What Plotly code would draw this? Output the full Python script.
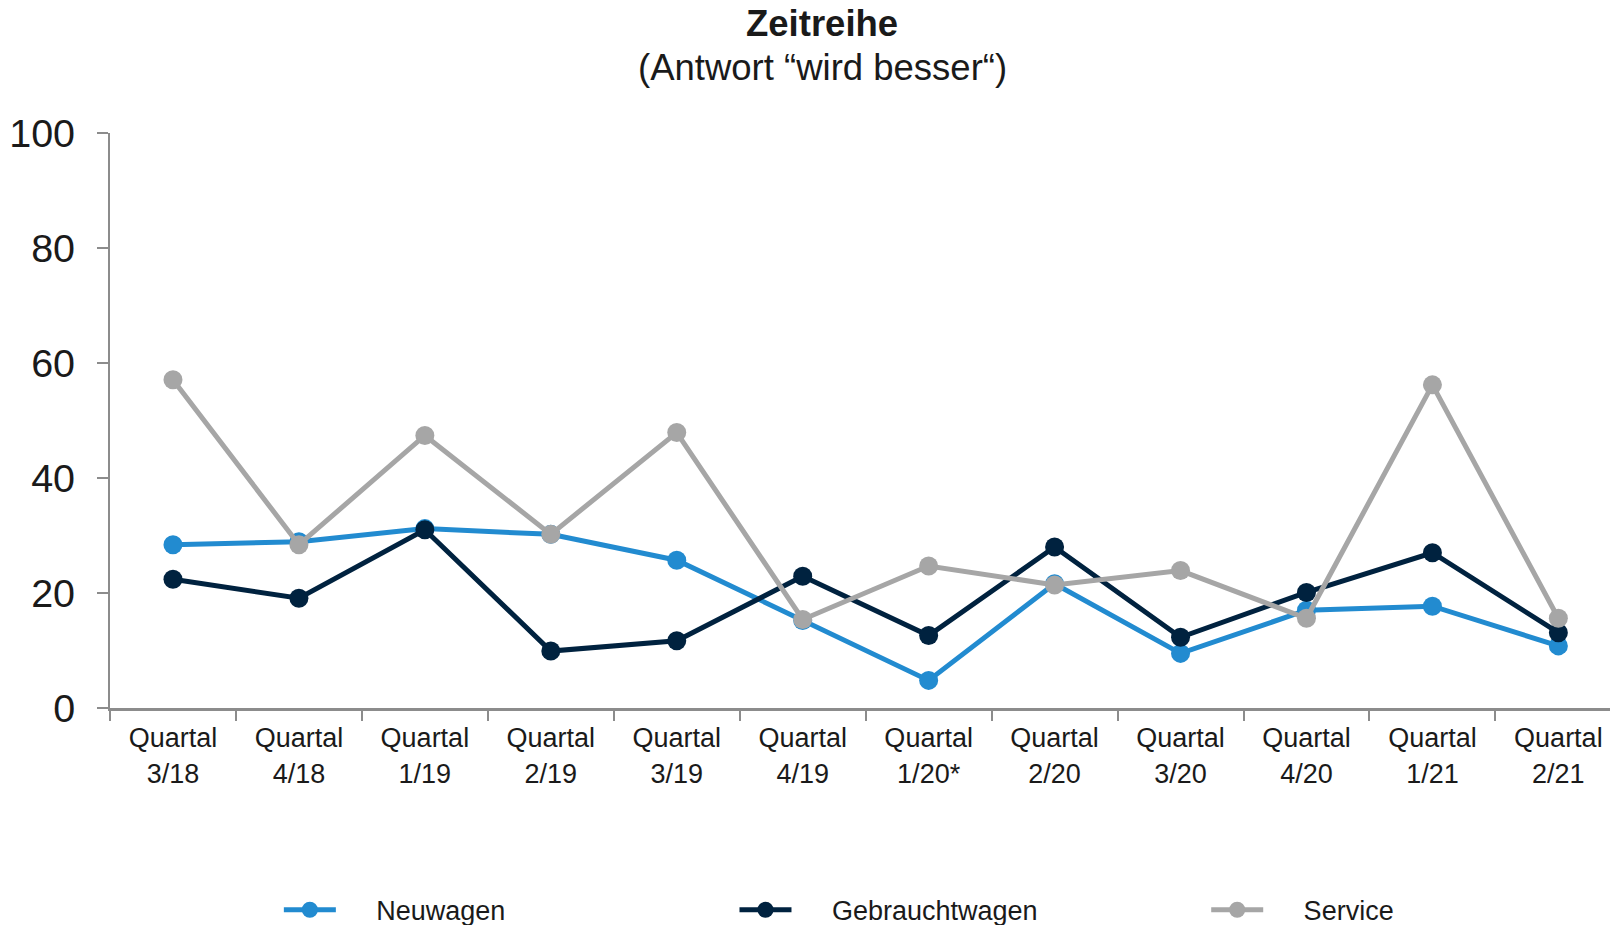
import plotly.graph_objects as go

quarters = ["Quartal<br>3/18", "Quartal<br>4/18", "Quartal<br>1/19", "Quartal<br>2/19",
            "Quartal<br>3/19", "Quartal<br>4/19", "Quartal<br>1/20*", "Quartal<br>2/20",
            "Quartal<br>3/20", "Quartal<br>4/20", "Quartal<br>1/21", "Quartal<br>2/21"]

neuwagen = [28.4, 28.9, 31.2, 30.2, 25.7, 15.2, 4.8, 21.6, 9.5, 17.0, 17.7, 10.8]
gebrauchtwagen = [22.4, 19.1, 31.0, 9.9, 11.7, 22.9, 12.6, 28.0, 12.3, 20.1, 27.0, 13.1]
service = [57.1, 28.4, 47.4, 30.2, 47.9, 15.4, 24.7, 21.4, 23.9, 15.6, 56.2, 15.6]

y_ticks = [0, 20, 40, 60, 80, 100]

FONT = "Arial, Liberation Sans, sans-serif"
TEXT = "#1a1a1a"
AXIS = "#8c8c8c"
PAD = "\u00a0" * 4 + "\u2009"  # gap between legend symbol and label

# name, values, colour, legend id, legend left edge (fraction of the page width)
series = [
    ("Neuwagen", neuwagen, "#228bd0", "legend", 0.1732),
    ("Gebrauchtwagen", gebrauchtwagen, "#00223f", "legend2", 0.4562),
    ("Service", service, "#a6a6a6", "legend3", 0.7492),
]

fig = go.Figure()
legends = {}
for name, values, color, leg, lx in series:
    fig.add_trace(go.Scatter(
        x=quarters, y=values, name=PAD + name, mode="lines+markers",
        line=dict(color=color, width=5),
        marker=dict(color=color, size=19),
        cliponaxis=False, legend=leg,
        hovertemplate="%{y}<extra>" + name + "</extra>",
    ))
    legends[leg] = dict(
        orientation="h", xref="container", yref="container",
        x=lx, xanchor="left", y=0.016, yanchor="middle",
        font=dict(size=27, color=TEXT), itemwidth=52,
        bgcolor="rgba(0,0,0,0)",
    )

fig.update_layout(
    width=1610, height=925,
    margin=dict(l=110, r=0, t=132.5, b=216.5, autoexpand=False),
    paper_bgcolor="white", plot_bgcolor="white",
    font=dict(family=FONT, color=TEXT),
    showlegend=True,
    annotations=[
        dict(text="<b>Zeitreihe</b>", x=0.4747, y=1.1905, xref="paper", yref="paper",
             xanchor="center", yanchor="middle", showarrow=False,
             font=dict(size=36.5, color=TEXT, family=FONT)),
        dict(text="(Antwort “wird besser“)", x=0.4747, y=1.114, xref="paper", yref="paper",
             xanchor="center", yanchor="middle", showarrow=False,
             font=dict(size=36.5, color=TEXT, family=FONT)),
    ],
    **legends,
)

fig.update_xaxes(
    type="category", range=[-0.5, 11.41], automargin=False,
    showline=True, linecolor=AXIS, linewidth=3,
    ticks="outside", tickson="boundaries", ticklen=10, tickwidth=1.5, tickcolor=AXIS,
    tickfont=dict(size=27, color=TEXT), ticklabelstandoff=4,
    showgrid=False, zeroline=False,
)
fig.update_yaxes(
    range=[0, 100], tickvals=y_ticks, automargin=False,
    showline=True, linecolor=AXIS, linewidth=2,
    ticks="outside", ticklen=11, tickwidth=2, tickcolor=AXIS,
    tickfont=dict(size=39.5, color=TEXT), ticklabelstandoff=14,
    showgrid=False, zeroline=False,
)

fig.write_html("out.html")
